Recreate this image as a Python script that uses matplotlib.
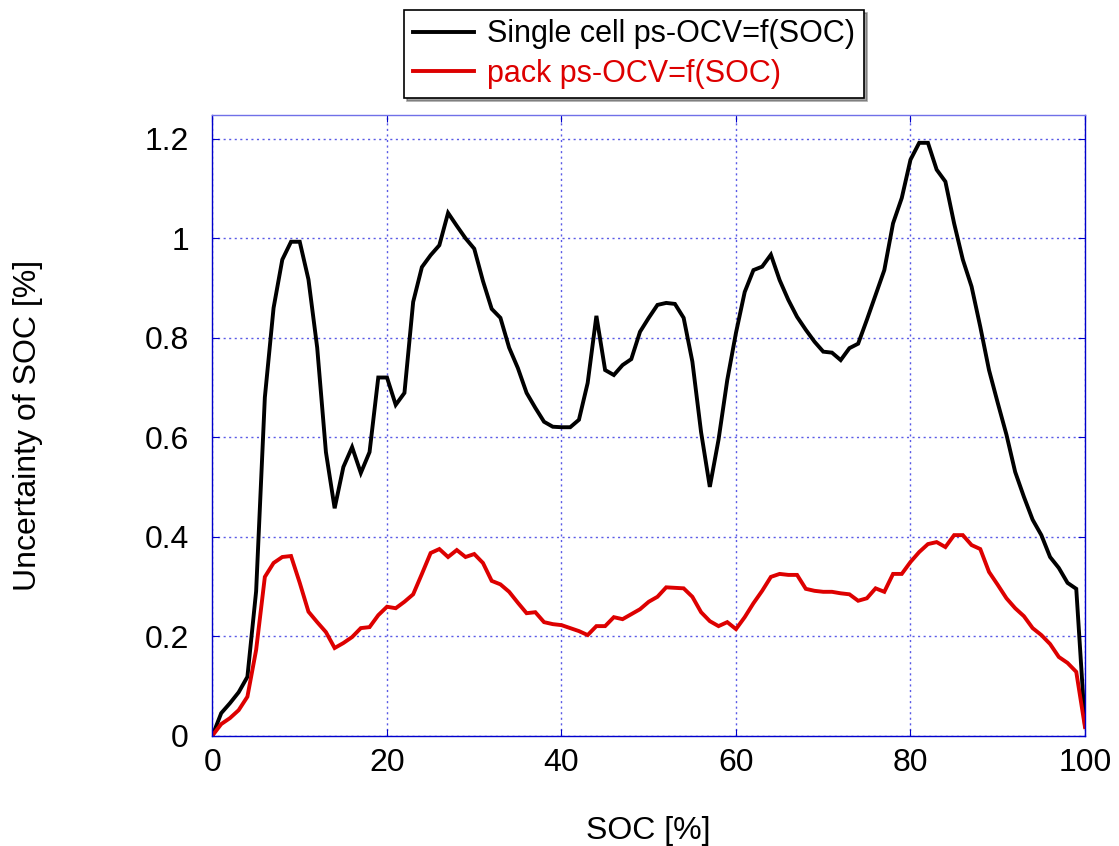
import numpy as np
import matplotlib
matplotlib.use("Agg")
import matplotlib.pyplot as plt
from matplotlib.ticker import FuncFormatter

plt.rcParams['font.family'] = ['Liberation Sans', 'DejaVu Sans']

# SOC axis, 1 % steps
soc = np.arange(0, 101)

# single cell uncertainty [%]
single_cell = [
    0.0, 0.045, 0.065, 0.087, 0.118, 0.29, 0.68, 0.86, 0.957, 0.993,
    0.993, 0.917, 0.78, 0.57, 0.457, 0.54, 0.58, 0.528, 0.57, 0.72,
    0.72, 0.665, 0.689, 0.872, 0.942, 0.966, 0.986, 1.051, 1.025, 1.0,
    0.979, 0.914, 0.858, 0.84, 0.78, 0.739, 0.689, 0.659, 0.631, 0.621,
    0.62, 0.62, 0.635, 0.709, 0.844, 0.735, 0.725, 0.745, 0.757, 0.812,
    0.84, 0.866, 0.87, 0.868, 0.84, 0.752, 0.61, 0.5, 0.595, 0.715,
    0.81, 0.892, 0.936, 0.943, 0.967, 0.916, 0.876, 0.842, 0.816, 0.792,
    0.772, 0.77, 0.755, 0.779, 0.788, 0.836, 0.886, 0.936, 1.03, 1.081,
    1.158, 1.192, 1.192, 1.138, 1.114, 1.03, 0.957, 0.903, 0.822, 0.735,
    0.669, 0.605, 0.53, 0.48, 0.434, 0.403, 0.359, 0.337, 0.307, 0.295,
    0.02,
]

# pack uncertainty [%]
pack = [
    0.0, 0.023, 0.035, 0.051, 0.078, 0.172, 0.319, 0.347, 0.359, 0.361,
    0.307, 0.249, 0.228, 0.208, 0.176, 0.186, 0.198, 0.216, 0.218, 0.242,
    0.259, 0.256, 0.269, 0.284, 0.325, 0.367, 0.375, 0.359, 0.373, 0.359,
    0.365, 0.347, 0.311, 0.304, 0.289, 0.267, 0.246, 0.248, 0.228, 0.224,
    0.222, 0.216, 0.21, 0.202, 0.22, 0.22, 0.238, 0.234, 0.244, 0.254,
    0.269, 0.279, 0.298, 0.297, 0.296, 0.279, 0.248, 0.23, 0.22, 0.228,
    0.214, 0.238, 0.266, 0.291, 0.319, 0.325, 0.323, 0.323, 0.295, 0.291,
    0.289, 0.289, 0.286, 0.284, 0.271, 0.276, 0.296, 0.289, 0.325, 0.325,
    0.349, 0.369, 0.385, 0.389, 0.379, 0.403, 0.403, 0.383, 0.375, 0.329,
    0.303, 0.276, 0.256, 0.24, 0.216, 0.202, 0.184, 0.158, 0.146, 0.128,
    0.017,
]

labels = ['Single cell ps-OCV=f(SOC)', 'pack ps-OCV=f(SOC)']
xticks = [0, 20, 40, 60, 80, 100]
yticks = [0, 0.2, 0.4, 0.6, 0.8, 1.0, 1.2]

blue = '#0000cc'
grid_blue = '#5a5ae6'
red = '#dd0000'
fs = 23

fig = plt.figure(figsize=(11.19, 8.46), dpi=100)
ax = fig.add_axes([0.1899, 0.1306, 0.7797, 0.7335])

l1, = ax.plot(soc, single_cell, color='black', lw=2.8, solid_joinstyle='miter')
l2, = ax.plot(soc, pack, color=red, lw=2.8, solid_joinstyle='miter')

ax.set_xlim(0, 100)
ax.set_ylim(0, 1.248)
ax.set_xticks(xticks)
ax.set_yticks(yticks)
ax.yaxis.set_major_formatter(FuncFormatter(lambda v, p: '%g' % v))

ax.grid(True, color=grid_blue, linestyle=(0, (1.5, 2.5)), linewidth=1.0)
for s in ax.spines.values():
    s.set_color(blue)
    s.set_linewidth(1.0)
ax.spines['top'].set_color('#7070e8')

ax.tick_params(direction='in', colors=blue, length=5, top=True, right=True,
               labelsize=fs, labelcolor='black')
ax.tick_params(axis='y', pad=17)
ax.tick_params(axis='x', pad=9)

ax.set_xlabel('SOC [%]', fontsize=fs, labelpad=27)
ax.set_ylabel('Uncertainty of SOC [%]', fontsize=fs, labelpad=73)

leg = ax.legend([l1, l2], labels, loc='upper center', bbox_to_anchor=(0.483, 1.169),
                fontsize=22, frameon=True, fancybox=False, shadow=True,
                edgecolor='black', handlelength=2.0, handletextpad=0.4,
                borderpad=0.3, labelspacing=0.32, borderaxespad=0)
leg.get_frame().set_linewidth(1.2)
leg.get_texts()[1].set_color(red)

fig.savefig('out.png', dpi=100)
